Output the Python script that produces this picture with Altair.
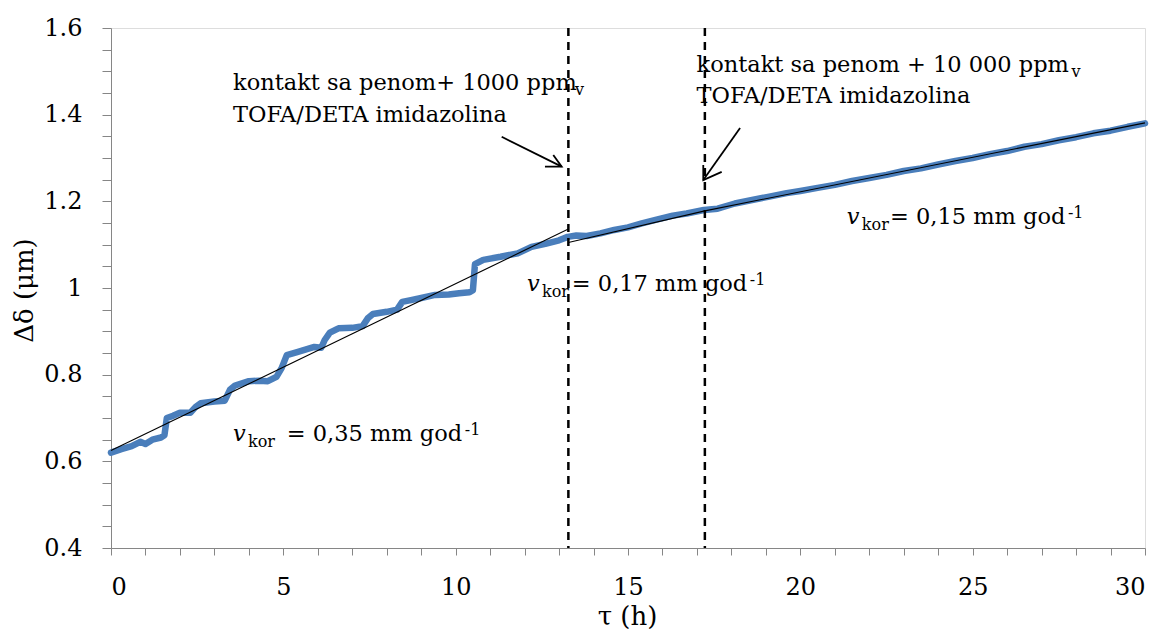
import altair as alt
import pandas as pd

# ---------------- data ----------------
# measured curve (blue)
t_h = [0.00, 0.30, 0.60, 0.85, 1.00, 1.20, 1.45, 1.55, 1.62, 1.80, 2.00, 2.30, 2.45, 2.60,
       3.00, 3.30, 3.45, 3.60, 4.00, 4.30, 4.55, 4.80, 4.95, 5.10, 5.40, 5.90, 6.10, 6.20,
       6.35, 6.60, 7.00, 7.30, 7.45, 7.60, 8.00, 8.30, 8.45, 8.70, 9.00, 9.40, 9.80, 10.10,
       10.40, 10.50, 10.56, 10.80, 11.30, 11.80, 12.20, 12.60, 13.00, 13.25, 13.50, 13.80,
       14.20, 14.60, 15.00, 15.40, 15.80, 16.30, 16.70, 17.20, 17.60, 18.10, 18.60, 19.10,
       19.60, 20.00, 20.50, 21.00, 21.50, 22.00, 22.50, 23.00, 23.50, 24.00, 24.50, 25.00,
       25.50, 26.00, 26.50, 27.00, 27.50, 28.00, 28.50, 29.00, 29.50, 30.00]
d_um = [0.620, 0.628, 0.635, 0.645, 0.640, 0.650, 0.655, 0.660, 0.700, 0.705, 0.712, 0.712,
        0.725, 0.734, 0.738, 0.740, 0.765, 0.775, 0.785, 0.786, 0.785, 0.795, 0.815, 0.845,
        0.852, 0.864, 0.862, 0.880, 0.897, 0.907, 0.908, 0.912, 0.930, 0.940, 0.945, 0.950,
        0.968, 0.972, 0.977, 0.984, 0.985, 0.988, 0.990, 0.995, 1.055, 1.065, 1.072, 1.080,
        1.095, 1.102, 1.110, 1.118, 1.121, 1.120, 1.126, 1.134, 1.140, 1.149, 1.157, 1.167,
        1.172, 1.180, 1.183, 1.195, 1.203, 1.211, 1.219, 1.224, 1.231, 1.238, 1.247, 1.254,
        1.261, 1.270, 1.276, 1.285, 1.293, 1.300, 1.309, 1.316, 1.326, 1.332, 1.341, 1.348,
        1.357, 1.363, 1.372, 1.380]

# linear fits (black)
fit_id = ["f1", "f1", "f2", "f2", "f3", "f3"]
fit_x = [0.0, 13.27, 13.27, 17.23, 17.23, 30.0]
fit_y = [0.625, 1.136, 1.105, 1.178, 1.178, 1.381]

# event markers (dashed)
event_x = [13.27, 17.23]

# arrows: shafts and open heads
arrow_id = ["s1", "s1", "h1", "h1", "h1", "s2", "s2", "h2", "h2", "h2"]
arrow_ord = [0, 1, 0, 1, 2, 0, 1, 0, 1, 2]
arrow_x = [11.335, 13.076, 12.591, 13.076, 12.832, 18.252, 17.184, 17.718, 17.184, 17.184]
arrow_y = [1.349, 1.280, 1.280, 1.280, 1.307, 1.369, 1.249, 1.268, 1.249, 1.284]

# annotation texts
note_text = ["kontakt sa penom+ 1000 ppm", "TOFA/DETA imidazolina",
             "kontakt sa penom + 10 000 ppm", "TOFA/DETA imidazolina"]
note_x = [3.54, 3.54, 16.99, 16.99]
note_y = [1.457, 1.384, 1.499, 1.426]
note_sub_text = ["v", "v"]
note_sub_x = [13.46, 27.87]
note_sub_y = [1.4454, 1.487]

# corrosion-rate labels
rate_v_x = [3.54, 12.07, 21.35]
rate_eq_x = [5.10, 13.37, 22.60]
rate_y = [0.6476, 0.9930, 1.1477]
rate_text = ["= 0,35 mm god", "= 0,17 mm god", "= 0,15 mm god"]

x_ticks = list(range(0, 31))
y_ticks = [round(0.4 + 0.05 * i, 2) for i in range(25)]

# ---------------- chart ----------------
FONT = "DejaVu Serif"
AX = "#868686"
TXT = 22.5
SMALL = 16
xs = alt.Scale(domain=[0, 30], nice=False, zero=False)
ys = alt.Scale(domain=[0.4, 1.6], nice=False, zero=False)

blue_df = pd.DataFrame({"t": t_h, "d": d_um})
fit_df = pd.DataFrame({"id": fit_id, "t": fit_x, "d": fit_y})
ev_df = pd.DataFrame({"t": event_x})
arr_df = pd.DataFrame({"id": arrow_id, "o": arrow_ord, "t": arrow_x, "d": arrow_y})
note_df = pd.DataFrame({"txt": note_text, "t": note_x, "d": note_y})
sub_df = pd.DataFrame({"txt": note_sub_text, "t": note_sub_x, "d": note_sub_y})
rate_df = pd.DataFrame({"vx": rate_v_x, "ex": rate_eq_x, "d": rate_y, "txt": rate_text})

x_axis = alt.Axis(values=x_ticks, title="τ (h)", labelExpr="datum.value % 5 === 0 ? datum.label : ''",
                  labelOverlap=False, tickSize=7, labelPadding=20, labelFont=FONT, labelFontSize=24,
                  labelColor="black", titleFont=FONT, titleFontSize=26, titleFontWeight="normal",
                  titleColor="black", titleX=516, titleY=76, titleBaseline="alphabetic",
                  domainColor=AX, tickColor=AX, grid=False, format="d")
y_axis = alt.Axis(values=y_ticks, title="Δδ (μm)", format=".2~f",
                  labelExpr="round(datum.value*20) % 4 === 0 ? datum.label : ''",
                  labelOverlap=False, tickSize=9, labelPadding=20, labelFont=FONT, labelFontSize=24,
                  labelColor="black", titleFont=FONT, titleFontSize=26, titleFontWeight="normal",
                  titleColor="black", titleX=-79, titleY=262, titleAngle=270,
                  titleBaseline="alphabetic", titleAlign="center",
                  domainColor=AX, tickColor=AX, grid=False)


def X(f="t"):
    return alt.X(f"{f}:Q", scale=xs, axis=x_axis)


def Y(f="d"):
    return alt.Y(f"{f}:Q", scale=ys, axis=y_axis)


blue = alt.Chart(blue_df).mark_line(color="#4A7EBB", strokeWidth=6.5, strokeCap="round",
                                   strokeJoin="round").encode(x=X(), y=Y())
fits = alt.Chart(fit_df).mark_line(color="black", strokeWidth=1.1).encode(x=X(), y=Y(), detail="id:N")
events = alt.Chart(ev_df).mark_rule(color="black", strokeWidth=2.5, strokeDash=[8, 6]).encode(x=X())
arrows = alt.Chart(arr_df).mark_line(color="black", strokeWidth=1.8).encode(
    x=X(), y=Y(), detail="id:N", order="o:Q")
notes = alt.Chart(note_df).mark_text(font=FONT, fontSize=TXT, align="left", baseline="alphabetic",
                                     color="black").encode(x=X(), y=Y(), text="txt:N")
subs = alt.Chart(sub_df).mark_text(font=FONT, fontSize=SMALL, align="left", baseline="alphabetic",
                                   color="black").encode(x=X(), y=Y(), text="txt:N")
rate_v = alt.Chart(rate_df).mark_text(font=FONT, fontSize=TXT, fontStyle="italic", align="left",
                                      baseline="alphabetic", color="black", text="v").encode(
    x=X("vx"), y=Y())
rate_kor = alt.Chart(rate_df).mark_text(font=FONT, fontSize=SMALL, align="left", baseline="alphabetic",
                                        color="black", text="kor", dx=15, dy=6).encode(
    x=X("vx"), y=Y())
rate_eq = alt.Chart(rate_df).mark_text(font=FONT, fontSize=TXT, align="left", baseline="alphabetic",
                                       color="black").encode(x=X("ex"), y=Y(), text="txt:N")
rate_sup = alt.Chart(rate_df).mark_text(font=FONT, fontSize=SMALL, align="left", baseline="alphabetic",
                                        color="black", text="-1", dx=178, dy=-6).encode(
    x=X("ex"), y=Y())

chart = alt.layer(blue, fits, events, arrows, notes, subs, rate_v, rate_kor, rate_eq, rate_sup).properties(
    width=1034, height=520,
    autosize=alt.AutoSizeParams(type="none"),
    padding={"left": 103, "top": 20, "right": 9, "bottom": 82},
).configure_view(stroke=AX, strokeWidth=1).configure_axis(labelOverlap=False).configure(background="white")

chart.save("out.html", embed_options={"renderer": "svg", "actions": False})
